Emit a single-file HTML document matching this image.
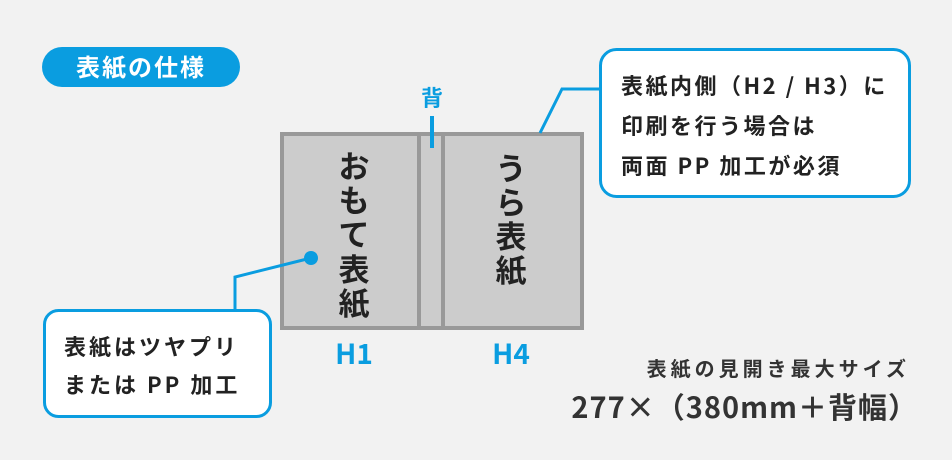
<!DOCTYPE html>
<html><head><meta charset="utf-8"><style>
body{margin:0;background:#f2f2f2;}
svg{display:block}
text{font-family:"Noto Sans CJK JP","Liberation Sans",sans-serif;font-weight:bold;}
</style></head><body>
<svg width="952" height="460" viewBox="0 0 952 460">
<rect width="952" height="460" fill="#f2f2f2"/>
<rect x="42" y="47" width="198" height="40" rx="20" fill="#0a9de0"/>
<text x="141" y="76" font-size="24" fill="#fff" text-anchor="middle" letter-spacing="2">表紙の仕様</text>
<!-- book -->
<rect x="282" y="134" width="300" height="194" fill="#cccccc" stroke="#999" stroke-width="4"/>
<line x1="419" y1="134" x2="419" y2="328" stroke="#999" stroke-width="4"/>
<line x1="443" y1="134" x2="443" y2="328" stroke="#999" stroke-width="4"/>
<line x1="432" y1="116" x2="432" y2="148" stroke="#0a9de0" stroke-width="4"/>
<text x="432" y="106" font-size="22" fill="#0a9de0" text-anchor="middle">背</text>
<g font-size="31" fill="#222" text-anchor="middle" font-weight="bold">
<text x="354" y="178">お</text><text x="354" y="212">も</text><text x="354" y="246">て</text><text x="354" y="281">表</text><text x="354" y="315">紙</text>
<text x="511" y="180">う</text><text x="511" y="214">ら</text><text x="511" y="248">表</text><text x="511" y="282">紙</text>
</g>
<text x="354" y="364" font-size="28" fill="#0a9de0" text-anchor="middle">H1</text>
<text x="511" y="364" font-size="28" fill="#0a9de0" text-anchor="middle">H4</text>
<!-- left connector -->
<polyline points="235,310 235,277 311,258" fill="none" stroke="#0a9de0" stroke-width="3"/>
<circle cx="311" cy="258" r="7" fill="#0a9de0"/>
<rect x="44.5" y="310.5" width="226" height="106" rx="14" fill="#fff" stroke="#0a9de0" stroke-width="3"/>
<text x="64" y="355" font-size="22" fill="#222" letter-spacing="3">表紙はツヤプリ</text>
<text x="64" y="393" font-size="22" fill="#222" letter-spacing="3">または PP 加工</text>
<!-- right connector -->
<polyline points="540,133 562,89 600,89" fill="none" stroke="#0a9de0" stroke-width="3"/>
<rect x="600.5" y="49.5" width="309" height="147" rx="16" fill="#fff" stroke="#0a9de0" stroke-width="3"/>
<g font-size="22" fill="#222" letter-spacing="2.5">
<text x="621" y="94">表紙内側（H2 / H3）に</text>
<text x="621" y="134">印刷を行う場合は</text>
<text x="621" y="174">両面 PP 加工が必須</text>
</g>
<text x="910" y="376" font-size="20" fill="#333" text-anchor="end" letter-spacing="4">表紙の見開き最大サイズ</text>
<text x="918" y="418" font-size="29" fill="#333" text-anchor="end" letter-spacing="1">277×（380mm＋背幅）</text>
</svg>
</body></html>
